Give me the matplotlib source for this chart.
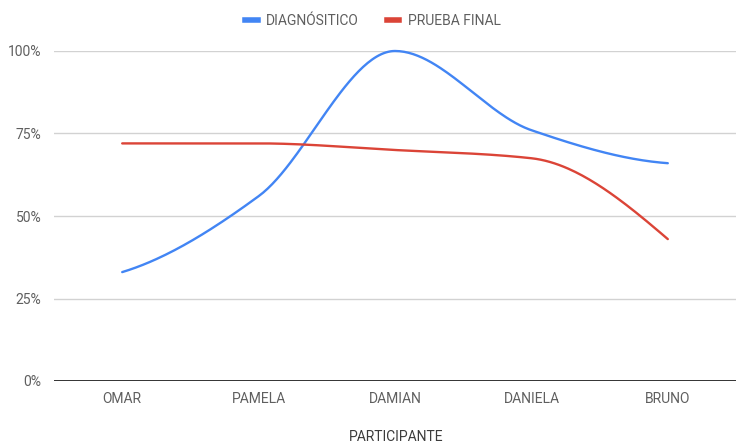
import numpy as np
import matplotlib
matplotlib.use("Agg")
import matplotlib.pyplot as plt
from matplotlib.lines import Line2D
from matplotlib.ticker import FuncFormatter

plt.rcParams['font.family'] = ['Roboto', 'DejaVu Sans']

participants = ["OMAR", "PAMELA", "DAMIAN", "DANIELA", "BRUNO"]
diagnostico = [33, 56, 100, 76, 66]
prueba_final = [72, 72, 70, 67.5, 43]
series_names = ["DIAGNÓSITICO", "PRUEBA FINAL"]
series_colors = ["#4285F4", "#DB4437"]
y_ticks = [0, 25, 50, 75, 100]


def pchip(x, y, n=60):
    """Monotone cubic (Fritsch-Carlson) interpolation for smooth curves."""
    x = np.asarray(x, float)
    y = np.asarray(y, float)
    h = np.diff(x)
    d = np.diff(y) / h
    m = np.zeros_like(y)
    for k in range(1, len(y) - 1):
        if d[k - 1] * d[k] <= 0:
            m[k] = 0.0
        else:
            w1 = 2 * h[k] + h[k - 1]
            w2 = h[k] + 2 * h[k - 1]
            m[k] = (w1 + w2) / (w1 / d[k - 1] + w2 / d[k])

    def end_slope(h0, h1, d0, d1):
        s = ((2 * h0 + h1) * d0 - h0 * d1) / (h0 + h1)
        if np.sign(s) != np.sign(d0):
            s = 0.0
        elif np.sign(d0) != np.sign(d1) and abs(s) > abs(3 * d0):
            s = 3 * d0
        return s
    m[0] = end_slope(h[0], h[1], d[0], d[1])
    m[-1] = end_slope(h[-1], h[-2], d[-1], d[-2])
    xs, ys = [], []
    for k in range(len(x) - 1):
        t = np.linspace(0, 1, n, endpoint=(k == len(x) - 2))
        h00 = 2 * t**3 - 3 * t**2 + 1
        h10 = t**3 - 2 * t**2 + t
        h01 = -2 * t**3 + 3 * t**2
        h11 = t**3 - t**2
        xs.append(x[k] + t * h[k])
        ys.append(h00 * y[k] + h10 * h[k] * m[k] + h01 * y[k + 1] + h11 * h[k] * m[k + 1])
    return np.concatenate(xs), np.concatenate(ys)


fig = plt.figure(figsize=(7.36, 4.43), dpi=100)
ax = fig.add_axes([54 / 736, 1 - 381 / 443, 1 - 54 / 736, (381 - 51) / 443])

xpos = np.arange(len(participants))
for vals, color in zip([diagnostico, prueba_final], series_colors):
    xs, ys = pchip(xpos, vals)
    ax.plot(xs, ys, color=color, lw=1.7, solid_capstyle='round', zorder=3, clip_on=False)

ax.set_xlim(-0.5, len(participants) - 0.5)
ax.set_ylim(0, 100)
ax.set_xticks(xpos)
ax.set_xticklabels(participants)
ax.set_yticks(y_ticks)
ax.yaxis.set_major_formatter(FuncFormatter(lambda v, p: f"{int(v)}%"))

for yv in y_ticks[1:]:
    ax.axhline(yv, color="#d2d2d2", lw=1.0, zorder=1)
ax.axhline(0, color="#333333", lw=1.4, zorder=2)

for s in ax.spines.values():
    s.set_visible(False)
ax.tick_params(axis='both', length=0, labelsize=10, labelcolor="#5f5f5f")
ax.tick_params(axis='x', pad=8)
ax.tick_params(axis='y', pad=9)

fig.text(396 / 736, 1 - 437 / 443, "PARTICIPANTE", ha='center', va='center',
         fontsize=10, color="#3c3c3c")

handles = [Line2D([], [], color=c, lw=4) for c in series_colors]
fig.legend(handles, series_names, loc='center', bbox_to_anchor=(373 / 736, 1 - 21 / 443),
           ncol=2, frameon=False, fontsize=10, labelcolor="#5f5f5f",
           handlelength=0.9, handletextpad=0.6, columnspacing=2.0)

fig.savefig("out.png", dpi=100, facecolor="white")
